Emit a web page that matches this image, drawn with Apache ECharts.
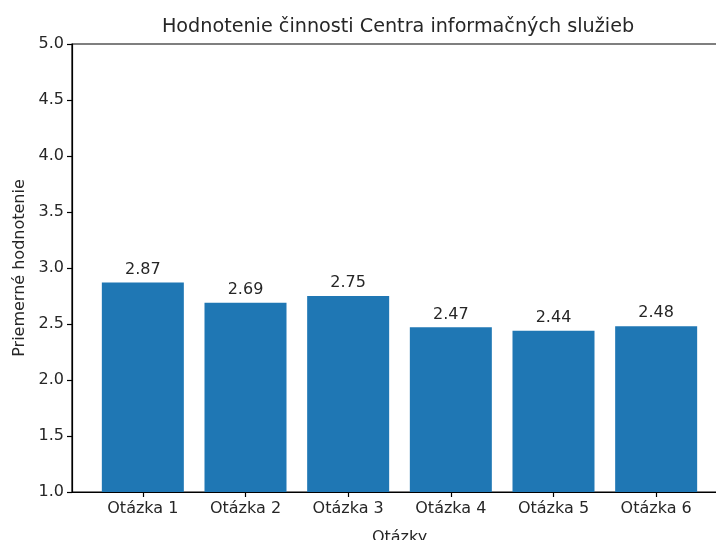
<!DOCTYPE html>
<html>
<head>
<meta charset="utf-8">
<script src="https://cdn.jsdelivr.net/npm/echarts@6/dist/echarts.min.js"></script>
<style>
  html, body { margin: 0; padding: 0; background: #fff; }
  #chart { width: 716px; height: 540px; }
</style>
</head>
<body>
<div id="chart"></div>
<script>
const categories = ['Otázka 1', 'Otázka 2', 'Otázka 3', 'Otázka 4', 'Otázka 5', 'Otázka 6']
const scores = [2.87, 2.69, 2.75, 2.47, 2.44, 2.48]
const yTicks = [1.0, 1.5, 2.0, 2.5, 3.0, 3.5, 4.0, 4.5, 5.0]

const font = 'DejaVu Sans'
const textColor = '#262626'
const positions = categories.map((c, i) => i)

const chart = echarts.init(document.getElementById('chart'))

const option = {
  animation: false,
  textStyle: { fontFamily: font },
  title: {
    text: 'Hodnotenie činnosti Centra informačných služieb',
    left: 393,
    top: 13,
    textAlign: 'center',
    textStyle: { fontFamily: font, fontSize: 19.2, fontWeight: 'normal', color: textColor }
  },
  grid: {
    left: 72,
    right: -11,
    top: 44,
    bottom: 48,
    show: true,
    borderColor: '#000',
    borderWidth: 1.2,
    containLabel: false,
    outerBoundsMode: 'none'
  },
  xAxis: {
    type: 'value',
    min: -0.69,
    max: 5.69,
    name: 'Otázky',
    nameLocation: 'middle',
    nameGap: 38,
    nameTextStyle: { fontFamily: font, fontSize: 16, color: textColor },
    splitLine: { show: false },
    axisLine: { show: true, onZero: false, lineStyle: { color: '#000', width: 1.2 } },
    axisTick: { show: true, length: 5, customValues: positions, lineStyle: { color: '#000', width: 1.2 } },
    axisLabel: {
      customValues: positions,
      margin: 9,
      fontFamily: font,
      fontSize: 16,
      color: textColor,
      formatter: v => categories[Math.round(v)]
    }
  },
  yAxis: {
    type: 'value',
    min: 1.0,
    max: 5.0,
    interval: 0.5,
    name: 'Priemerné hodnotenie',
    nameLocation: 'middle',
    nameGap: 44,
    nameTextStyle: { fontFamily: font, fontSize: 16, color: textColor },
    splitLine: { show: false },
    axisLine: { show: true, onZero: false, lineStyle: { color: '#000', width: 1.2 } },
    axisTick: { show: true, length: 5, lineStyle: { color: '#000', width: 1.2 } },
    axisLabel: {
      margin: 8,
      fontFamily: font,
      fontSize: 16,
      color: textColor,
      formatter: v => yTicks.includes(v) ? v.toFixed(1) : ''
    }
  },
  series: [
    {
      type: 'bar',
      data: scores.map((v, i) => [positions[i], v]),
      barWidth: 82,
      itemStyle: { color: '#1f77b4' },
      label: {
        show: true,
        position: 'top',
        distance: 5,
        fontFamily: font,
        fontSize: 16,
        color: textColor,
        formatter: p => p.value[1].toFixed(2)
      }
    }
  ]
}

chart.setOption(option)
</script>
</body>
</html>
